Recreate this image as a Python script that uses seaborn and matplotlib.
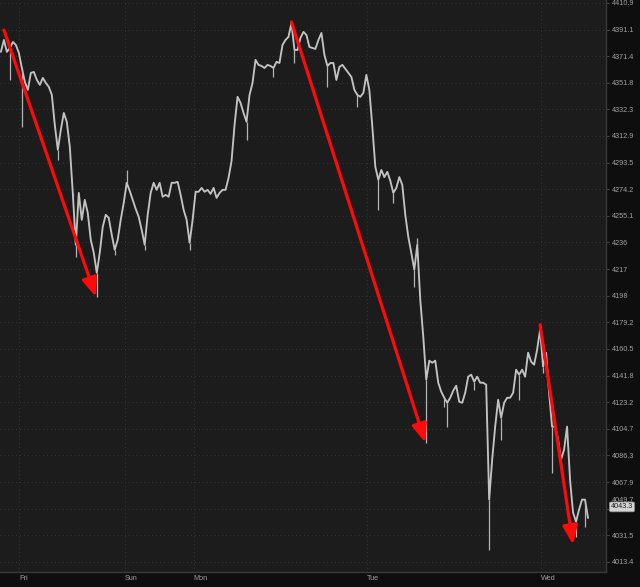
import numpy as np
import pandas as pd
import matplotlib
matplotlib.use('Agg')
import matplotlib.pyplot as plt
import matplotlib.transforms as mtransforms
import seaborn as sns

# DATA -------------------------------------------------------------
# one close per bar (bars are evenly spaced)
close = [
    4374.6, 4383.4, 4374.6, 4377.5, 4381.9, 4379.7, 4373.8, 4362.7, 4352.5, 4346.6,
    4359.1, 4359.8, 4353.9, 4350.3, 4355.4, 4351.7, 4348.8, 4342.9, 4320.9, 4302.8,
    4317.3, 4329.7, 4323.2, 4305.0, 4271.6, 4234.3, 4271.6, 4252.2, 4266.6, 4257.2,
    4237.9, 4228.6, 4214.3, 4228.6, 4247.2, 4255.8, 4253.6, 4241.5, 4230.7, 4237.9,
    4252.2, 4264.4, 4278.9, 4273.1, 4266.6, 4260.1, 4254.4, 4245.0, 4234.3, 4255.8,
    4271.6, 4278.9, 4273.8, 4278.9, 4268.8, 4270.2, 4268.8, 4278.9, 4278.9, 4279.6,
    4270.2, 4259.4, 4252.2, 4235.7, 4252.2, 4272.4, 4272.4, 4275.2, 4272.4, 4273.8,
    4270.9, 4275.2, 4268.0, 4271.6, 4273.8, 4273.8, 4282.5, 4294.8, 4320.9, 4341.5,
    4337.1, 4329.7, 4323.2, 4342.9, 4351.7, 4368.7, 4365.0, 4364.2, 4362.7, 4365.0,
    4364.2, 4362.7, 4367.2, 4366.4, 4379.7, 4383.4, 4385.7, 4396.0, 4376.0, 4376.0,
    4384.9, 4389.4, 4387.1, 4378.2, 4377.5, 4376.8, 4383.4, 4388.6, 4372.3, 4364.2,
    4366.4, 4366.4, 4353.9, 4363.5, 4365.0, 4362.0, 4359.1, 4356.1, 4346.6, 4342.9,
    4341.5, 4344.4, 4357.6, 4346.6, 4319.5, 4290.4, 4281.0, 4288.2, 4283.0, 4286.8,
    4280.3, 4271.6, 4275.2, 4283.0, 4277.4, 4255.8, 4240.0, 4228.6, 4216.5, 4234.3,
    4195.2, 4169.0, 4138.9, 4152.2, 4150.8, 4152.2, 4136.8, 4130.5, 4126.3, 4122.8,
    4126.3, 4131.2, 4134.7, 4123.5, 4122.8, 4129.8, 4141.0, 4142.4, 4137.5, 4141.0,
    4136.8, 4136.8, 4135.4, 4055.9, 4083.4, 4106.2, 4124.9, 4112.4, 4122.8, 4126.3,
    4126.3, 4129.8, 4145.9, 4142.4, 4145.9, 4141.0, 4157.8, 4151.5, 4149.4, 4159.9,
    4174.0, 4148.0, 4157.8, 4129.8, 4106.2, 4106.2, 4097.2, 4083.4, 4090.3, 4106.2,
    4069.5, 4047.0, 4040.8, 4049.0, 4055.9, 4055.9, 4043.3,
]

# long wicks (bar number, extreme price)
wick_bar = [3, 7, 19, 24, 25, 32, 38, 42, 48, 63, 82, 91, 98, 109, 119, 126,
            131, 138, 139, 142, 148, 149, 158, 163, 167, 173, 181, 184, 192, 195]
wick_price = [4353.9, 4319.5, 4295.5, 4268.8, 4225.7, 4197.3, 4227.2, 4288.2,
              4230.7, 4230.7, 4310.0, 4356.1, 4366.4, 4348.8, 4334.1, 4259.4,
              4264.4, 4204.4, 4239.3, 4095.1, 4120.1, 4106.2, 4131.9, 4021.8,
              4097.2, 4124.9, 4143.8, 4074.4, 4030.6, 4037.4]

price_labels = ['4410.9', '4391.1', '4371.4', '4351.8', '4332.3', '4312.9',
                '4293.5', '4274.2', '4255.1', '4236', '4217', '4198', '4179.2',
                '4160.5', '4141.8', '4123.2', '4104.7', '4086.3', '4067.9',
                '4049.7', '4031.5', '4013.4']

day_names = ['Fri', 'Sun', 'Mon', 'Tue', 'Wed']
day_bar = [6.1, 41.5, 64.3, 122.2, 180.3]

# hand-drawn red arrows: (bar, price) start -> end
arrow_from_bar = [1, 97, 180]
arrow_from_price = [4390.8, 4396.8, 4177.5]
arrow_to_bar = [31.7, 141.7, 191]
arrow_to_price = [4197.3, 4095.1, 4025.2]
# ------------------------------------------------------------------

sns.set_theme(style='dark')
plt.rcParams['font.family'] = ['Liberation Sans', 'DejaVu Sans']

df = pd.DataFrame({'bar': np.arange(len(close)), 'price': close})

fig = plt.figure(figsize=(6.4, 5.87), dpi=100, facecolor='#0e0e0e')
ax = fig.add_axes([0, 15 / 587, 606 / 640, 572 / 587])
ax.set_facecolor('#1c1c1c')

ax.grid(True, axis='both', color='#363636', linestyle=(0, (1, 3)), lw=0.7)
ax.set_axisbelow(True)

sns.lineplot(data=df, x='bar', y='price', ax=ax, color='#c2c2c2', lw=1.35)
ax.vlines(wick_bar, [close[i] for i in wick_bar], wick_price, color='#b4b4b4', lw=0.9)

for x0, y0, x1, y1 in zip(arrow_from_bar, arrow_from_price, arrow_to_bar, arrow_to_price):
    ax.annotate('', xy=(x1, y1), xytext=(x0, y0),
                arrowprops=dict(arrowstyle='-|>,head_length=0.75,head_width=0.3',
                                color='#ff0a0a', lw=2.3, mutation_scale=15,
                                shrinkA=0, shrinkB=0))

ax.set_yscale('log')
ax.set_ylim(4006.6, 4413.1)
ax.set_xlim(-0.3, 202)
ax.minorticks_off()

ax.yaxis.tick_right()
ax.set_yticks([float(v) for v in price_labels])
ax.set_yticklabels(price_labels)
ax.set_xticks(day_bar)
ax.set_xticklabels(day_names, ha='left')
ax.set_xlabel('')
ax.set_ylabel('')

ax.tick_params(axis='y', which='major', length=2.5, width=0.6, pad=1.5,
               color='#555555', labelcolor='#a0a0a0', labelsize=5.2)
ax.tick_params(axis='x', which='major', length=0, pad=2.5,
               labelcolor='#a0a0a0', labelsize=5.2)

for side in ['top', 'left']:
    ax.spines[side].set_visible(False)
for side in ['right', 'bottom']:
    ax.spines[side].set_visible(True)
    ax.spines[side].set_color('#3a3a3a')
    ax.spines[side].set_linewidth(1.0)

# the 4049.7 label is pushed up by the last-price tag
for lbl in ax.get_yticklabels():
    if lbl.get_text() == '4049.7':
        lbl.set_transform(lbl.get_transform() +
                          mtransforms.ScaledTranslation(0, 0.09, fig.dpi_scale_trans))

ax.annotate(f'{close[-1]:.1f}', xy=(1, close[-1]), xycoords=('axes fraction', 'data'),
            xytext=(3.5, 8), textcoords='offset points', ha='left', va='center',
            fontsize=5.2, color='#202020', annotation_clip=False,
            bbox=dict(boxstyle='round,pad=0.2', fc='#d4d4d4', ec='#8a8a8a', lw=0.5))

fig.savefig('out.png', dpi=100, facecolor=fig.get_facecolor())
